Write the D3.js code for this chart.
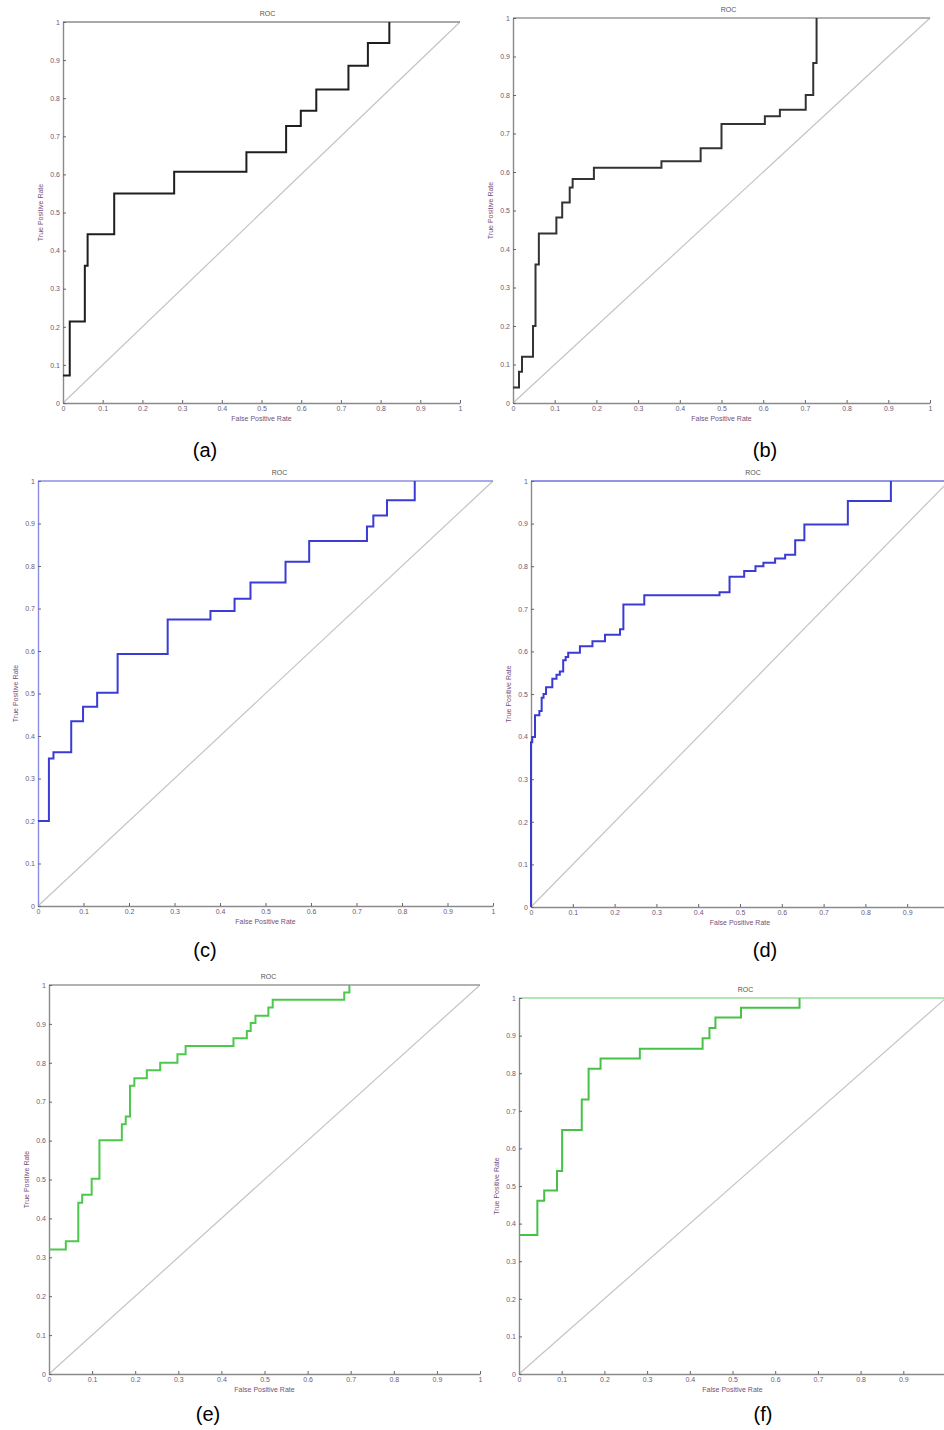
<!DOCTYPE html>
<html>
<head>
<meta charset="utf-8">
<script src="https://cdn.jsdelivr.net/npm/d3@7"></script>
<style>
  body { margin: 0; background: #fff; }
  svg { display: block; font-family: "Liberation Sans", Arial, sans-serif; }
</style>
</head>
<body>
<svg id="canvas" width="944" height="1430"></svg>
<script>
// ROC corner points (fpr, tpr)
const fprA = [0, 0.017, 0.055, 0.062, 0.129, 0.28, 0.462, 0.562, 0.599, 0.638, 0.719, 0.768, 0.822]
const tprA = [0.072, 0.214, 0.36, 0.443, 0.55, 0.607, 0.658, 0.727, 0.767, 0.823, 0.885, 0.945, 1]

const fprB = [0, 0.0144, 0.0216, 0.048, 0.054, 0.062, 0.104, 0.118, 0.136, 0.143, 0.194, 0.356, 0.45, 0.5, 0.604, 0.64, 0.702, 0.72, 0.728]
const tprB = [0.04, 0.081, 0.12, 0.2, 0.36, 0.44, 0.482, 0.521, 0.56, 0.582, 0.611, 0.628, 0.662, 0.725, 0.745, 0.762, 0.8, 0.883, 1]

const fprC = [0, 0.024, 0.034, 0.073, 0.099, 0.13, 0.175, 0.285, 0.379, 0.432, 0.467, 0.544, 0.596, 0.723, 0.737, 0.767, 0.828]
const tprC = [0.2, 0.347, 0.362, 0.435, 0.469, 0.502, 0.593, 0.674, 0.694, 0.723, 0.761, 0.81, 0.859, 0.893, 0.919, 0.955, 1]

const fprD = [0, 0, 0.003, 0.0096, 0.02, 0.0255, 0.03, 0.036, 0.051, 0.061, 0.069, 0.077, 0.083, 0.089, 0.117, 0.147, 0.177, 0.213, 0.221, 0.271, 0.451, 0.475, 0.51, 0.537, 0.556, 0.584, 0.608, 0.632, 0.654, 0.758, 0.861]
const tprD = [0, 0.387, 0.399, 0.45, 0.46, 0.491, 0.5, 0.516, 0.536, 0.545, 0.553, 0.579, 0.587, 0.597, 0.612, 0.624, 0.639, 0.652, 0.71, 0.732, 0.739, 0.775, 0.789, 0.8, 0.808, 0.818, 0.827, 0.861, 0.898, 0.953, 1]

const fprE = [0, 0.039, 0.068, 0.077, 0.099, 0.117, 0.169, 0.178, 0.188, 0.198, 0.227, 0.258, 0.298, 0.317, 0.428, 0.459, 0.468, 0.479, 0.509, 0.519, 0.685, 0.697]
const tprE = [0.32, 0.341, 0.44, 0.461, 0.502, 0.601, 0.642, 0.662, 0.741, 0.76, 0.781, 0.8, 0.822, 0.843, 0.863, 0.882, 0.902, 0.921, 0.942, 0.962, 0.981, 1]

const fprF = [0, 0.043, 0.059, 0.089, 0.101, 0.147, 0.163, 0.191, 0.283, 0.43, 0.446, 0.46, 0.52, 0.657]
const tprF = [0.37, 0.461, 0.488, 0.54, 0.649, 0.73, 0.812, 0.839, 0.865, 0.893, 0.92, 0.948, 0.974, 1]

const tickValues = [0, 0.1, 0.2, 0.3, 0.4, 0.5, 0.6, 0.7, 0.8, 0.9, 1]
const captions = ['(a)', '(b)', '(c)', '(d)', '(e)', '(f)']
const titleText = 'ROC'
const xLabelText = 'False Positive Rate'
const yLabelText = 'True Positive Rate'

const pageWidth = 944

// layout + styles for each panel
let panels = [
    { fpr: fprA, tpr: tprA, x0: 63, x1: 460, yTop: 22, yBot: 403, titleDx: 6, capX: 205, capY: 450,
      curve: '#1e1e1e', top: '#8c8c8c', left: '#8a8a8a' },
    { fpr: fprB, tpr: tprB, x0: 513, x1: 930, yTop: 18, yBot: 403, titleDx: 7, capX: 765, capY: 450,
      curve: '#333333', top: '#999999', left: '#8a8a8a' },
    { fpr: fprC, tpr: tprC, x0: 38, x1: 493, yTop: 481, yBot: 906, titleDx: 14, capX: 205, capY: 950,
      curve: '#3b3bd6', top: '#8c8ce6', left: '#8c8ce6' },
    { fpr: fprD, tpr: tprD, x0: 531, x1: 949, yTop: 481, yBot: 907, titleDx: 13, capX: 765, capY: 950,
      curve: '#3b3bd2', top: '#7070e0', left: '#8a8a8a' },
    { fpr: fprE, tpr: tprE, x0: 49, x1: 480, yTop: 985, yBot: 1374, titleDx: 4, capX: 208, capY: 1414,
      curve: '#4cc84c', top: '#999999', left: '#8a8a8a' },
    { fpr: fprF, tpr: tprF, x0: 519, x1: 946, yTop: 998, yBot: 1374, titleDx: 13, capX: 763, capY: 1414,
      curve: '#47c247', top: '#99dd99', left: '#8a8a8a' }
]

let canvas = d3.select('#canvas')

canvas.append('rect')
    .attr('width', 944)
    .attr('height', 1430)
    .attr('fill', '#ffffff')

function drawPanel(p, i) {
    let xScale = d3.scaleLinear().domain([0, 1]).range([p.x0, p.x1])
    let yScale = d3.scaleLinear().domain([0, 1]).range([p.yBot, p.yTop])

    let g = canvas.append('g')

    // chance line
    g.append('line')
        .attr('x1', xScale(0)).attr('y1', yScale(0))
        .attr('x2', xScale(1)).attr('y2', yScale(1))
        .attr('stroke', '#c4c4c4')
        .attr('stroke-width', 1.2)

    // top border
    g.append('line')
        .attr('x1', xScale(0)).attr('y1', yScale(1))
        .attr('x2', xScale(1)).attr('y2', yScale(1))
        .attr('stroke', p.top)
        .attr('stroke-width', 1.4)

    let fmt = (d) => d === 0 || d === 1 ? String(d) : d.toFixed(1)

    // labels falling past the page edge are cut off in the original too
    let xTicks = tickValues.filter((v) => xScale(v) + 3 <= pageWidth)

    let xAxis = d3.axisBottom(xScale)
        .tickValues(xTicks)
        .tickFormat(fmt)
        .tickSizeInner(-3)
        .tickSizeOuter(0)
        .tickPadding(3)

    let yAxis = d3.axisLeft(yScale)
        .tickValues(tickValues)
        .tickFormat(fmt)
        .tickSizeInner(-3)
        .tickSizeOuter(0)
        .tickPadding(3)

    let gx = g.append('g')
        .attr('transform', 'translate(0,' + p.yBot + ')')
        .call(xAxis)
    gx.select('.domain').attr('stroke', '#8a8a8a').attr('stroke-width', 1.4)

    let gy = g.append('g')
        .attr('transform', 'translate(' + p.x0 + ',0)')
        .call(yAxis)
    gy.select('.domain').attr('stroke', p.left).attr('stroke-width', 1.4)

    g.selectAll('.tick line').attr('stroke', '#666666')
    g.selectAll('.tick text')
        .attr('fill', '#6c5a78')
        .style('font-size', '7px')
        .style('font-family', '"Liberation Sans", Arial, sans-serif')

    // ROC curve
    let points = p.fpr.map((f, k) => [f, p.tpr[k]])
    let line = d3.line()
        .x((d) => xScale(d[0]))
        .y((d) => yScale(d[1]))
        .curve(d3.curveStepAfter)

    g.append('path')
        .attr('d', line(points))
        .attr('fill', 'none')
        .attr('stroke', p.curve)
        .attr('stroke-width', 2)

    let midX = (p.x0 + p.x1) / 2
    let midY = (p.yTop + p.yBot) / 2

    g.append('text')
        .attr('x', midX + p.titleDx)
        .attr('y', p.yTop - 6)
        .attr('text-anchor', 'middle')
        .attr('fill', '#555555')
        .style('font-size', '7px')
        .text(titleText)

    g.append('text')
        .attr('x', midX)
        .attr('y', p.yBot + 18)
        .attr('text-anchor', 'middle')
        .attr('fill', '#76507a')
        .style('font-size', '7px')
        .text(xLabelText)

    g.append('text')
        .attr('transform', 'translate(' + (p.x0 - 20) + ',' + midY + ') rotate(-90)')
        .attr('text-anchor', 'middle')
        .attr('fill', '#76507a')
        .style('font-size', '7px')
        .text(yLabelText)

    g.append('text')
        .attr('x', p.capX)
        .attr('y', p.capY + 7)
        .attr('text-anchor', 'middle')
        .attr('fill', '#000000')
        .style('font-size', '20px')
        .style('font-family', '"Liberation Sans", Arial, sans-serif')
        .text(captions[i])
}

panels.forEach(drawPanel)
</script>
</body>
</html>
